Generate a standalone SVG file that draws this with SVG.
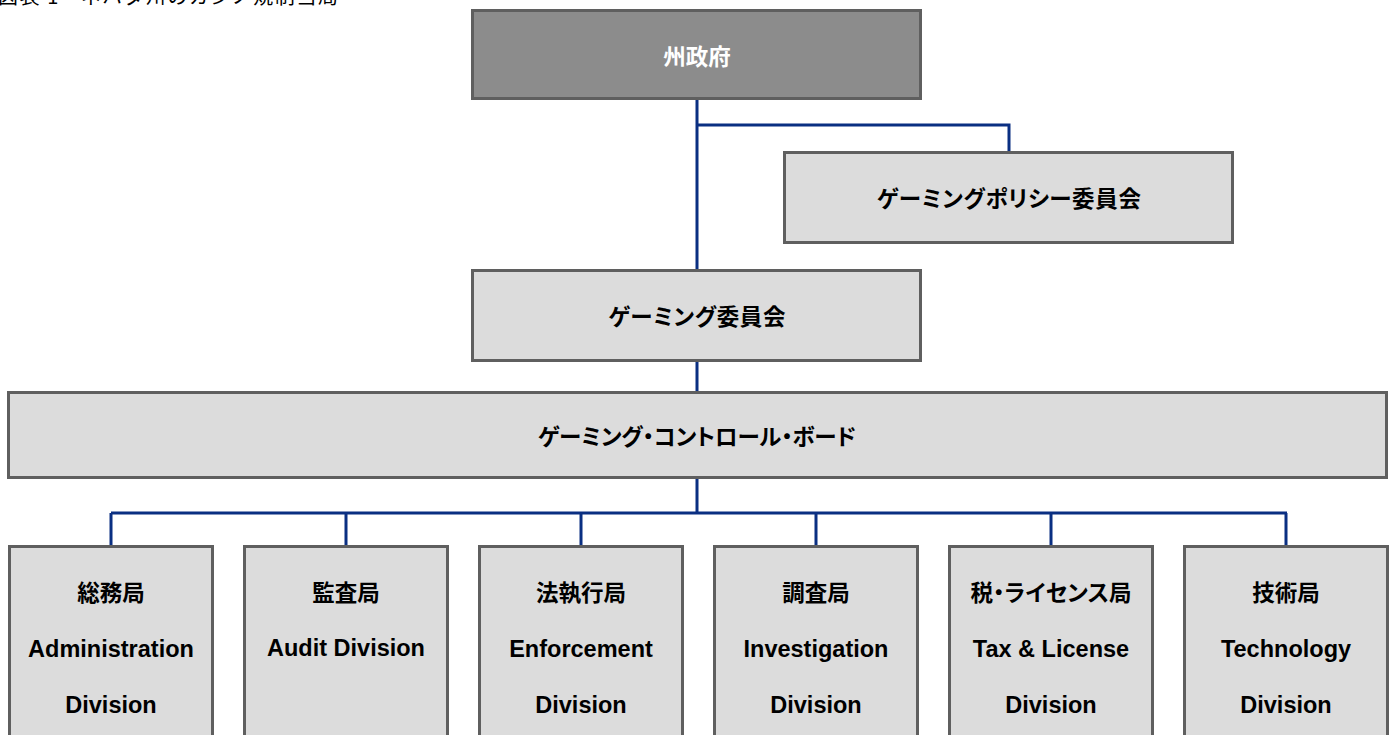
<svg xmlns="http://www.w3.org/2000/svg" width="1395" height="735" viewBox="0 0 1395 735">
<style>
.box{fill:#dcdcdc;stroke:#5f5f5f;stroke-width:3}
.dark{fill:#8c8c8c;stroke:#5f5f5f;stroke-width:3}
.conn{fill:none;stroke:#0a2f82;stroke-width:3}
.jp{font-family:"Liberation Sans","Noto Sans CJK JP",sans-serif;font-weight:bold;font-size:22.5px;text-anchor:middle;fill:#000;font-feature-settings:"palt"}
.en{font-family:"Liberation Sans",Arial,sans-serif;font-weight:bold;font-size:23.5px;text-anchor:middle;fill:#000}
.title{font-family:"Noto Sans CJK JP",sans-serif;font-size:20px;fill:#000}
</style>
<text class="title" x="-2" y="4" textLength="340">図表 1 - ネバダ州のカジノ規制当局</text>
<g id="connectors">
<path class="conn" d="M697 99V270M697 125H1009V152M697 361V392M697 478V513M111 513H1287M111 513V546M346 513V546M581 513V546M816 513V546M1051 513V546M1286 513V546"/>
</g>
<g id="state"><rect class="dark" x="472.5" y="10.5" width="448" height="88"/><text class="jp" x="697" y="65" style="fill:#fff">州政府</text></g>
<g id="policy"><rect class="box" x="784.5" y="152.5" width="448" height="90"/><text class="jp" x="1009" y="207" textLength="264">ゲーミングポリシー委員会</text></g>
<g id="commission"><rect class="box" x="472.5" y="270.5" width="448" height="90"/><text class="jp" x="697" y="325" textLength="177">ゲーミング委員会</text></g>
<g id="board"><rect class="box" x="8.5" y="392.5" width="1378" height="85"/><text class="jp" x="697" y="445" textLength="318">ゲーミング・コントロール・ボード</text></g>
<g id="admin"><rect class="box" x="9.5" y="546.5" width="203" height="200"/><text class="jp" x="111" y="601">総務局</text><text class="en" x="111" y="657">Administration</text><text class="en" x="111" y="713">Division</text></g>
<g id="audit"><rect class="box" x="244.5" y="546.5" width="203" height="200"/><text class="jp" x="346" y="601">監査局</text><text class="en" x="346" y="656">Audit Division</text></g>
<g id="enforcement"><rect class="box" x="479.5" y="546.5" width="203" height="200"/><text class="jp" x="581" y="601">法執行局</text><text class="en" x="581" y="657">Enforcement</text><text class="en" x="581" y="713">Division</text></g>
<g id="investigation"><rect class="box" x="714.5" y="546.5" width="203" height="200"/><text class="jp" x="816" y="601">調査局</text><text class="en" x="816" y="657">Investigation</text><text class="en" x="816" y="713">Division</text></g>
<g id="tax"><rect class="box" x="949.5" y="546.5" width="203" height="200"/><text class="jp" x="1051" y="601" textLength="161">税・ライセンス局</text><text class="en" x="1051" y="657">Tax &amp; License</text><text class="en" x="1051" y="713">Division</text></g>
<g id="technology"><rect class="box" x="1184.5" y="546.5" width="203" height="200"/><text class="jp" x="1286" y="601">技術局</text><text class="en" x="1286" y="657">Technology</text><text class="en" x="1286" y="713">Division</text></g>
</svg>
